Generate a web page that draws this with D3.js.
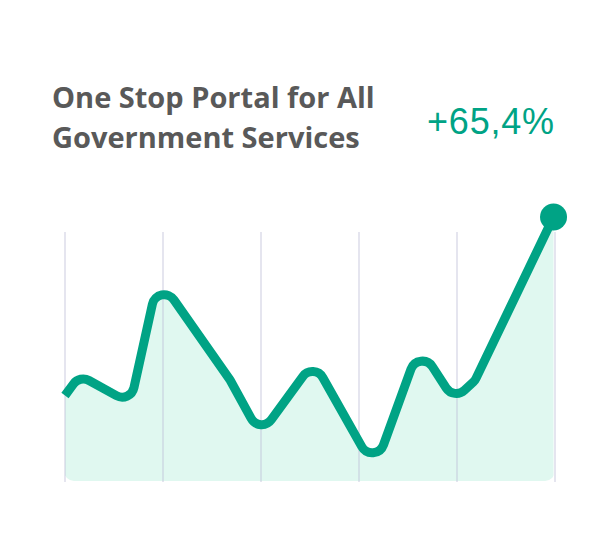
<!DOCTYPE html>
<html>
<head>
<meta charset="utf-8">
<script src="https://cdn.jsdelivr.net/npm/d3@7/dist/d3.min.js"></script>
<style>
  html, body { margin: 0; padding: 0; background: #ffffff; }
  svg { display: block; }
</style>
</head>
<body>
<svg id="chart" width="616" height="534"></svg>
<script>
// ---- data ----
const titleLines = ["One Stop Portal for All", "Government Services"];
const changeLabel = "+65,4%";
const gridTicks = [0, 1, 2, 3, 4, 5];
const xValues = [0, 0.151, 0.668, 0.952, 1.684, 1.992, 2.538, 3.159, 3.615, 3.969, 4.184, 4.985];
const yValues = [32.4, 40.0, 29.4, 77.1, 38.3, 17.4, 45.3, 4.4, 51.0, 30.7, 38.1, 100];

const data = xValues.map((x, i) => ({ x, y: yValues[i] }));

// custom d3 curve: straight segments joined by rounded corners
function roundedCorners(radius) {
  function Curve(context) { this._context = context; this._r = radius; }
  Curve.prototype = {
    areaStart() { this._line = 0; },
    areaEnd() { this._line = NaN; },
    lineStart() { this._pts = []; },
    point(x, y) { this._pts.push([+x, +y]); },
    lineEnd() {
      const p = this._pts, n = p.length, c = this._context;
      if (n) {
        if (this._line) c.lineTo(p[0][0], p[0][1]); else c.moveTo(p[0][0], p[0][1]);
        for (let i = 1; i < n - 1; i++) {
          const [x0, y0] = p[i - 1], [x1, y1] = p[i], [x2, y2] = p[i + 1];
          const l1 = Math.hypot(x1 - x0, y1 - y0), l2 = Math.hypot(x2 - x1, y2 - y1);
          if (l1 < 1e-6 || l2 < 1e-6) { c.lineTo(x1, y1); continue; }
          const cos = ((x0 - x1) * (x2 - x1) + (y0 - y1) * (y2 - y1)) / (l1 * l2);
          const theta = Math.acos(Math.max(-1, Math.min(1, cos)));
          if (theta > 1e-6 && theta < Math.PI - 1e-6) {
            const maxR = Math.min(l1, l2) / 2 * Math.tan(theta / 2);
            c.arcTo(x1, y1, x2, y2, Math.min(this._r, maxR));
          } else {
            c.lineTo(x1, y1);
          }
        }
        if (n > 1) c.lineTo(p[n - 1][0], p[n - 1][1]);
      }
      if (this._line || (this._line !== 0 && n === 1)) c.closePath();
      this._line = 1 - this._line;
    }
  };
  return context => new Curve(context);
}

const svg = d3.select("#chart");
const teal = "#00a385";

const x = d3.scaleLinear().domain([0, 5]).range([65, 555]);
const y = d3.scaleLinear().domain([0, 100]).range([481, 217]);

// title
const title = svg.append("text")
  .attr("font-family", "'Open Sans', sans-serif")
  .attr("font-weight", 700)
  .attr("font-size", 29)
  .attr("fill", "#595959");
titleLines.forEach((t, i) => {
  title.append("tspan").attr("x", 52).attr("y", 108 + i * 40).text(t);
});

svg.append("text")
  .attr("x", 427).attr("y", 134)
  .attr("font-family", "'Liberation Sans', Arial, sans-serif")
  .attr("font-size", 36)
  .attr("letter-spacing", 0.8)
  .attr("fill", teal)
  .text(changeLabel);

// clip for area
const defs = svg.append("defs");
defs.append("clipPath").attr("id", "areaClip")
  .append("rect")
  .attr("x", x(0) - 1).attr("y", 0)
  .attr("width", x(5) - x(0) + 1).attr("height", y(0))
  .attr("rx", 10).attr("ry", 10);

const curve = roundedCorners(12);

svg.append("path")
  .datum(data)
  .attr("clip-path", "url(#areaClip)")
  .attr("fill", "#e0f8f0")
  .attr("d", d3.area().x(d => x(d.x)).y0(y(0) + 20).y1(d => y(d.y)).curve(curve));

// gridlines
svg.append("g")
  .selectAll("line")
  .data(gridTicks)
  .join("line")
  .attr("x1", d => x(d)).attr("x2", d => x(d))
  .attr("y1", 232).attr("y2", 482)
  .attr("stroke", "rgba(190,190,215,0.4)")
  .attr("stroke-width", 2);

// line
svg.append("path")
  .datum(data)
  .attr("fill", "none")
  .attr("stroke", teal)
  .attr("stroke-width", 9)
  .attr("stroke-linejoin", "round")
  .attr("d", d3.line().x(d => x(d.x)).y(d => y(d.y)).curve(curve));

// end dot
const last = data[data.length - 1];
svg.append("circle")
  .attr("cx", x(last.x)).attr("cy", y(last.y))
  .attr("r", 13.5)
  .attr("fill", teal);
</script>
</body>
</html>
